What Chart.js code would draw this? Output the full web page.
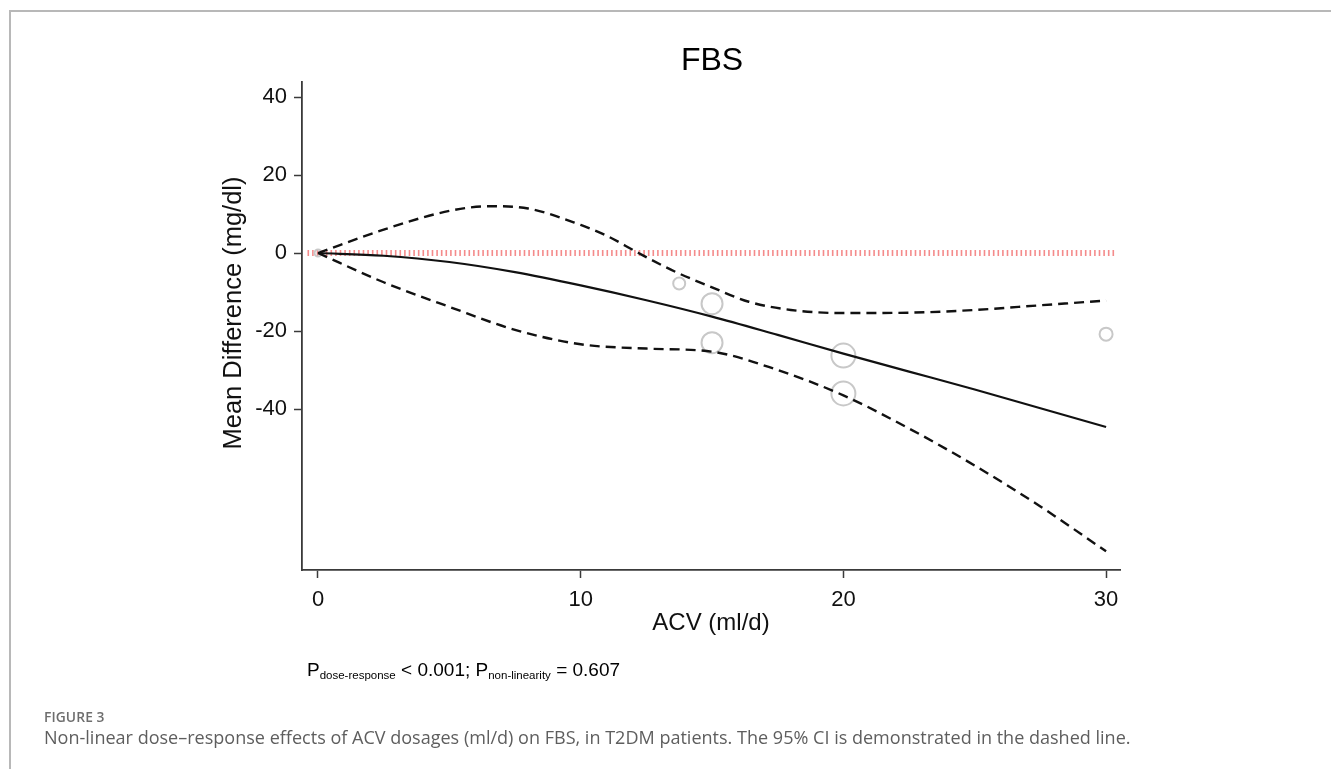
<!DOCTYPE html>
<html>
<head>
<meta charset="utf-8">
<script src="https://cdn.jsdelivr.net/npm/chart.js@4/dist/chart.umd.min.js"></script>
<style>
  html, body { margin:0; padding:0; background:#fff; }
  body { width:1331px; height:769px; position:relative; overflow:hidden; font-family:"Liberation Sans", Arial, sans-serif; }
  #frame { position:absolute; left:9px; top:10px; width:1400px; height:800px; border-left:2px solid #b8b8b8; border-top:2px solid #b8b8b8; }
  #c { position:absolute; left:0; top:0; }
  #title { position:absolute; left:612px; width:200px; text-align:center; top:43px; font-size:32px; line-height:32px; color:#000; }
  #ytitle { position:absolute; left:32px; width:400px; top:298px; height:30px; line-height:30px; text-align:center; font-size:25.5px; color:#111; transform:rotate(-90deg); transform-origin:200px 15px; white-space:nowrap; }
  #ptext { position:absolute; left:307px; top:660px; font-size:19px; line-height:20px; color:#000; white-space:nowrap; }
  #ptext sub { font-size:11.5px; vertical-align:-3px; }
  #figlabel { position:absolute; left:44px; top:707px; font-family:"Open Sans", sans-serif; font-weight:600; font-size:13.8px; color:#6e6e6e; letter-spacing:0.1px; }
  #caption { position:absolute; left:44px; top:725px; font-family:"Open Sans", sans-serif; font-size:18.05px; color:#5e5e5e; white-space:nowrap; }
</style>
</head>
<body>
<div id="frame"></div>
<canvas id="c" width="1331" height="769"></canvas>
<div id="title">FBS</div>
<div id="ytitle">Mean Difference (mg/dl)</div>
<div id="ptext">P<sub>dose-response</sub> &lt; 0.001; P<sub>non-linearity</sub> = 0.607</div>
<div id="figlabel">FIGURE 3</div>
<div id="caption">Non-linear dose–response effects of ACV dosages (ml/d) on FBS, in T2DM patients. The 95% CI is demonstrated in the dashed line.</div>
<script>
// ---- data ----
const fitX    = [0, 2.5, 5, 7.5, 10, 12.5, 15, 17.5, 20, 22.5, 25, 27.5, 30];
const fitY    = [0, -0.7, -2.3, -4.9, -8.3, -12.1, -16.3, -21, -25.8, -30.4, -35, -39.8, -44.6];
const upperX  = [0, 2.5, 5, 6.5, 8, 10, 11, 12.2, 13.6, 15, 16.4, 18, 20, 22.5, 25, 27.5, 30];
const upperY  = [0, 6, 10.8, 12, 11.4, 7.2, 4.4, 0, -4.8, -8.8, -12.5, -14.6, -15.4, -15.3, -14.6, -13.4, -12.2];
const lowerX  = [0, 2.5, 5, 7.5, 10, 12.5, 15, 17.5, 20, 22.5, 25, 27.5, 30];
const lowerY  = [0, -7.5, -13.8, -19.7, -23.4, -24.5, -25.3, -30, -36.5, -45, -54.5, -65, -76.5];
const refX    = [-0.4, 30.4];
const refY    = [0, 0];
const studyX  = [0, 13.75, 15, 15, 20, 20, 30];
const studyY  = [0, -7.8, -13, -23, -26.3, -36, -20.8];
const studyR  = [3.5, 6, 10.5, 10.5, 12, 12, 6.5];
const xTicks  = [0, 10, 20, 30];
const yTicks  = [40, 20, 0, -20, -40];

const pts = (xs, ys) => xs.map((x, i) => ({x: x, y: ys[i]}));

const TXT = '#111';
const AX = '#3a3a3a';
const FONT = '"Liberation Sans", Arial, sans-serif';

new Chart(document.getElementById('c'), {
  type: 'scatter',
  data: {
    datasets: [
      { type:'line', data: pts(fitX, fitY), borderColor:'#111', borderWidth:2.2, pointRadius:0, cubicInterpolationMode:'monotone', fill:false, order:1 },
      { type:'line', data: pts(upperX, upperY), borderColor:'#111', borderWidth:2.4, borderDash:[10,6], pointRadius:0, cubicInterpolationMode:'monotone', fill:false, order:2 },
      { type:'line', data: pts(lowerX, lowerY), borderColor:'#111', borderWidth:2.4, borderDash:[10,6], pointRadius:0, cubicInterpolationMode:'monotone', fill:false, order:3 },
      { type:'bubble', data: studyX.map((x,i)=>({x:x, y:studyY[i], r:studyR[i]})), backgroundColor:'rgba(0,0,0,0)', borderColor:'#c8c8c8', borderWidth:2, order:4 },
      { type:'line', data: pts(refX, refY), borderColor:'rgba(240,100,100,0.75)', borderWidth:6, borderDash:[1.6,3], pointRadius:0, fill:false, order:5 }
    ]
  },
  options: {
    responsive:false,
    animation:false,
    events:[],
    layout:{ padding:{ left:212, top:82, right:211, bottom:131 } },
    plugins:{ legend:{display:false}, tooltip:{enabled:false}, title:{display:false} },
    scales:{
      x:{
        type:'linear', min:-0.609, max:30.53,
        afterBuildTicks: s => { s.ticks = xTicks.map(v => ({value:v})); },
        afterFit: s => { s.height = 68; },
        grid:{ drawOnChartArea:false, drawTicks:true, tickLength:8, tickColor:AX, tickWidth:1.5 },
        border:{ color:AX, width:1.8 },
        ticks:{ color:TXT, font:{ family:FONT, size:22 }, padding:9, maxRotation:0, autoSkip:false },
        title:{ display:true, text:'ACV (ml/d)', color:TXT, font:{ family:FONT, size:24 }, padding:{top:0,bottom:0} }
      },
      y:{
        type:'linear', min:-81.28, max:43.85,
        afterBuildTicks: s => { s.ticks = yTicks.map(v => ({value:v})); },
        afterFit: s => { s.width = 90; },
        grid:{ drawOnChartArea:false, drawTicks:true, tickLength:8, tickColor:AX, tickWidth:1.5 },
        border:{ color:AX, width:1.8 },
        ticks:{ color:TXT, font:{ family:FONT, size:22 }, padding:7, autoSkip:false },
        title:{ display:false }
      }
    }
  }
});
</script>
</body>
</html>
